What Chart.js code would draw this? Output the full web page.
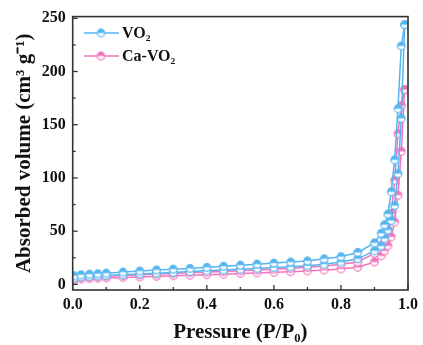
<!DOCTYPE html>
<html><head><meta charset="utf-8">
<script src="https://cdn.jsdelivr.net/npm/chart.js@4/dist/chart.umd.min.js"></script>
<style>html,body{margin:0;padding:0;background:#fff}#wrap{width:423px;height:345px}</style>
</head><body><div id="wrap"><canvas id="c" width="423" height="345"></canvas></div>
<script>
const pressure = [0.005,0.025,0.05,0.075,0.1,0.15,0.2,0.25,0.3,0.35,0.4,0.45,0.5,0.55,0.6,0.65,0.7,0.75,0.8,0.85,0.9,0.92,0.93,0.94,0.95,0.96,0.97,0.98,0.99];
const vo2Upper   = [8,9,9.5,10,10.5,11.5,12.5,13.5,14.3,15,16,17,18,19,20,21,22,24,26,30,39,48,56,66,87,117,165,224,244];
const vo2Lower   = [6,7,7.5,8,8.3,9,9.8,10.5,11.2,12,12.7,13.4,14.2,15,15.8,16.6,17.5,19,21,24,31.5,36,43,51,60,74,104,156,244];
const caUpper    = [5.5,6.5,7,7.3,7.6,8.3,9,9.7,10.3,11,11.6,12.2,12.8,13.5,14.2,15,16,17.3,19,21,29,36,41.5,51.6,66.6,97.8,141.6,168,182.9];
const caLower    = [4,5,5.5,5.8,6,6.5,7,7.6,8.1,8.6,9.1,9.6,10.1,10.7,11.3,11.9,12.6,13.5,14.5,16,21,26.8,31.5,36.2,44.6,58.7,83.8,125,182.9];
const seriesLabels = ['VO\u2082','Ca-VO\u2082'];
const xTicks = [0,0.2,0.4,0.6,0.8,1.0];
const yTicks = [0,50,100,150,200,250];

const BLUE = '#55b5f0', PINK = '#f274bc';
function marker(color){
  const c = document.createElement('canvas'); c.width = 11; c.height = 11;
  const g = c.getContext('2d'); const r = 3.8, cx = 5.5, cy = 5.5;
  g.beginPath(); g.arc(cx,cy,r,0,Math.PI*2); g.fillStyle='#fff'; g.fill();
  g.beginPath(); g.arc(cx,cy,r,Math.PI,0); g.closePath(); g.fillStyle=color; g.fill();
  g.beginPath(); g.arc(cx,cy,r,0,Math.PI*2); g.strokeStyle=color; g.lineWidth=1.2; g.stroke();
  return c;
}
const mB = marker(BLUE), mP = marker(PINK);
function ds(label, ys, color, m){
  return {label, data: pressure.map((x,i)=>({x, y: ys[i]})), borderColor: color, backgroundColor: color,
    borderWidth: 1.5, pointStyle: m, pointRadius: 4, showLine: true, tension: 0};
}
const frame = {
  id: 'frame',
  afterDraw(chart){
    const {ctx, chartArea:a, scales:{x, y}} = chart;
    ctx.save();
    ctx.strokeStyle = '#333'; ctx.lineWidth = 1.6;
    ctx.strokeRect(a.left, a.top, a.right-a.left, a.bottom-a.top);
    ctx.lineWidth = 1.3;
    for (let v = 0; v <= 1.0001; v += 0.1){
      const px = x.getPixelForValue(v); const L = (Math.round(v*10)%2===0) ? 5 : 3;
      ctx.beginPath(); ctx.moveTo(px, a.bottom); ctx.lineTo(px, a.bottom - L); ctx.stroke();
    }
    for (let v = 0; v <= 250; v += 25){
      const py = y.getPixelForValue(v); const L = (v%50===0) ? 5 : 3;
      ctx.beginPath(); ctx.moveTo(a.left, py); ctx.lineTo(a.left + L, py); ctx.stroke();
    }
    const items = [[seriesLabels[0], BLUE, mB, 33],[seriesLabels[1], PINK, mP, 56]];
    ctx.font = 'bold 16px "Liberation Serif"'; ctx.textBaseline = 'middle';
    for (const [t,c,m,yy] of items){
      ctx.strokeStyle = c; ctx.lineWidth = 1.5;
      ctx.beginPath(); ctx.moveTo(84, yy); ctx.lineTo(119, yy); ctx.stroke();
      ctx.drawImage(m, 101-5.5, yy-5.5);
      ctx.fillStyle = '#111'; ctx.fillText(t, 122, yy+1);
    }
    ctx.restore();
  }
};
new Chart(document.getElementById('c'), {
  type: 'scatter',
  data: { datasets: [ ds('VO2 upper', vo2Upper, BLUE, mB), ds('VO2 lower', vo2Lower, BLUE, mB),
                      ds('Ca-VO2 upper', caUpper, PINK, mP), ds('Ca-VO2 lower', caLower, PINK, mP) ] },
  options: {
    responsive: false, animation: false, devicePixelRatio: 1,
    layout: { padding: { top: 16, right: 11, left: 0, bottom: 0 } },
    plugins: { legend: { display: false }, tooltip: { enabled: false } },
    scales: {
      x: { type: 'linear', min: 0, max: 1.0,
        afterBuildTicks: s => { s.ticks = xTicks.map(v => ({value: v})); },
        afterFit: s => { s.height = 55; },
        grid: { display: false, drawTicks: false }, border: { display: false },
        ticks: { padding: 5, color: '#111', font: { family: 'Liberation Serif', weight: 'bold', size: 16 }, callback: v => v.toFixed(1), maxRotation: 0 },
        title: { display: true, text: 'Pressure (P/P\u2080)', color: '#111', padding: { top: 0, bottom: 0 }, font: { family: 'Liberation Serif', weight: 'bold', size: 21 } } },
      y: { type: 'linear', min: -5.3, max: 251.6,
        afterBuildTicks: s => { s.ticks = yTicks.map(v => ({value: v})); },
        afterFit: s => { s.width = 72.7; },
        grid: { display: false, drawTicks: false }, border: { display: false },
        ticks: { padding: 7, color: '#111', font: { family: 'Liberation Serif', weight: 'bold', size: 16 } },
        title: { display: true, text: 'Absorbed volume (cm\u00b3 g\u207b\u00b9)', color: '#111', padding: { top: 12, bottom: 0 }, font: { family: 'Liberation Serif', weight: 'bold', size: 21 } } }
    }
  },
  plugins: [frame]
});
</script></body></html>
